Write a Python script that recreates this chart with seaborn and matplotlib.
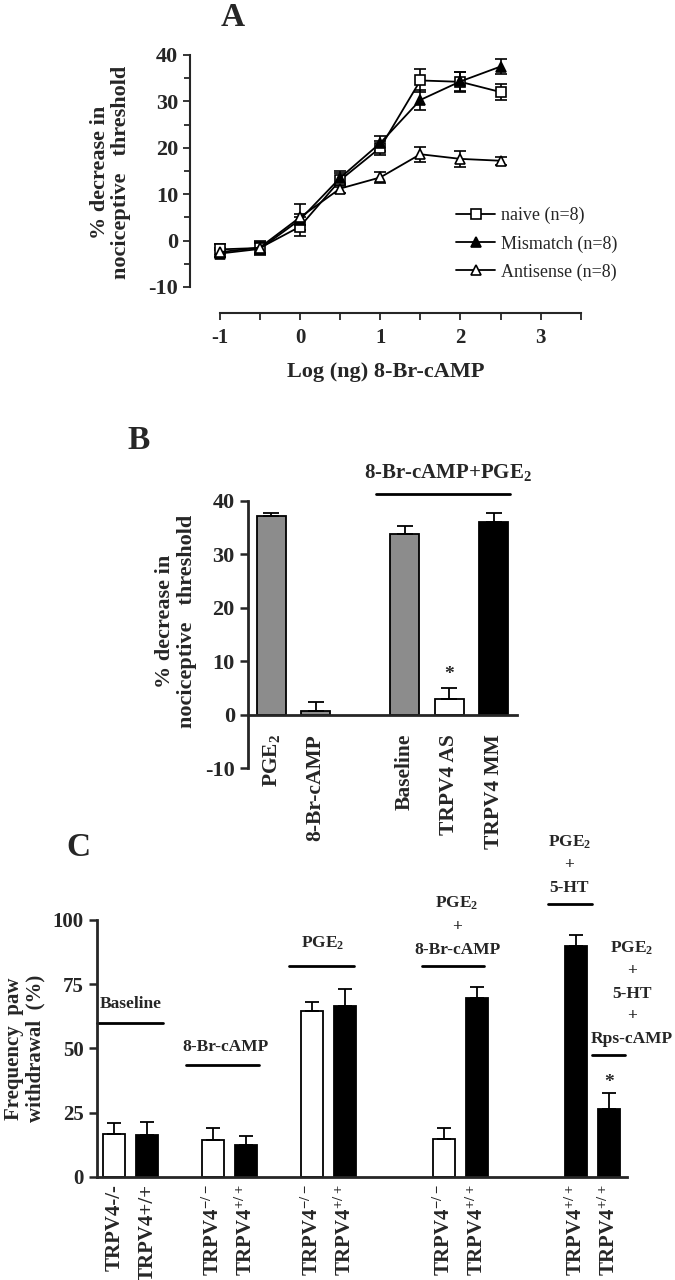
import numpy as np
import pandas as pd
import matplotlib
matplotlib.use("Agg")
import matplotlib.pyplot as plt
import seaborn as sns

# ---- Panel A: dose response ----
dose = [-1, -0.5, 0, 0.5, 1, 1.5, 2, 2.5]
naive = [-1.9, -1.6, 3.0, 13.0, 20.0, 34.5, 34.2, 32.0]
naive_err = [1.2, 1.5, 2.0, 1.5, 1.5, 2.5, 2.2, 1.8]
mismatch = [-2.8, -1.8, 4.5, 13.5, 21.0, 30.3, 34.3, 37.5]
mismatch_err = [0.8, 1.2, 1.2, 1.5, 1.6, 2.2, 2.0, 1.6]
antisense = [-2.5, -1.5, 5.0, 11.2, 13.6, 18.6, 17.6, 17.2]
antisense_err = [1.0, 1.2, 2.8, 1.0, 1.2, 1.6, 1.8, 0.9]

# ---- Panel B ----
b_labels = ["PGE$_2$", "8-Br-cAMP", "Baseline", "TRPV4 AS", "TRPV4 MM"]
b_pos = [0, 1, 3, 4, 5]
b_vals = [37.1, 0.6, 33.8, 3.0, 36.1]
b_err = [0.7, 1.7, 1.6, 1.9, 1.7]
b_colors = ["#8c8c8c", "#8c8c8c", "#8c8c8c", "white", "black"]

# ---- Panel C ----
c_labels = ["TRPV4-/-", "TRPV4+/+", "TRPV4$^{-/-}$", "TRPV4$^{+/+}$",
            "TRPV4$^{-/-}$", "TRPV4$^{+/+}$", "TRPV4$^{-/-}$", "TRPV4$^{+/+}$",
            "TRPV4$^{+/+}$", "TRPV4$^{+/+}$"]
c_pos = [0, 1, 3, 4, 6, 7, 10, 11, 14, 15]
c_vals = [16.9, 16.5, 14.4, 12.3, 64.7, 66.5, 14.8, 69.7, 89.9, 26.5]
c_err = [4.1, 4.7, 4.7, 3.5, 3.4, 6.5, 4.3, 4.3, 4.1, 6.0]
c_colors = ["white", "black", "white", "black", "white", "black",
            "white", "black", "black", "black"]

sns.set_style("ticks")
plt.rcParams["font.family"] = ["Liberation Serif", "DejaVu Serif"]
plt.rcParams["font.weight"] = "bold"
plt.rcParams["axes.labelweight"] = "bold"
plt.rcParams["axes.unicode_minus"] = False
plt.rcParams["mathtext.fontset"] = "custom"
plt.rcParams["mathtext.rm"] = "Liberation Serif:bold"
plt.rcParams["mathtext.it"] = "Liberation Serif:bold"
plt.rcParams["mathtext.bf"] = "Liberation Serif:bold"
plt.rcParams["mathtext.default"] = "rm"
plt.rcParams["axes.linewidth"] = 1.5

fig = plt.figure(figsize=(6.75, 12.8), dpi=100)

ylab = "% decrease in\nnociceptive   threshold"


def bold_ticks(ax):
    for lbl in ax.get_xticklabels() + ax.get_yticklabels():
        lbl.set_fontweight("bold")


# ================= A =================
axA = fig.add_axes([0.2815, 0.7555, 0.579, 0.2034])
series = [("naive (n=8)", naive, naive_err, "s", "white", 6.5),
          ("Mismatch (n=8)", mismatch, mismatch_err, "^", "black", 6.5),
          ("Antisense (n=8)", antisense, antisense_err, "^", "white", 7.5)]
for name, vals, err, mk, fc, ms in series:
    axA.errorbar(dose, vals, yerr=err, fmt="none", ecolor="k", elinewidth=1.2,
                 capsize=4, capthick=1.2, zorder=2)
    sns.lineplot(x=dose, y=vals, ax=axA, color="k", marker=mk, markerfacecolor=fc,
                 markeredgecolor="k", markersize=ms, markeredgewidth=1.2,
                 linewidth=1.3, label=name, zorder=3)
axA.set_xlim(-1.37, 3.5)
axA.set_ylim(-15.6, 40.5)
axA.spines["top"].set_visible(False)
axA.spines["right"].set_visible(False)
axA.spines["left"].set_bounds(-10, 40)
axA.spines["bottom"].set_bounds(-1, 3.5)
axA.set_xticks([-1, 0, 1, 2, 3])
axA.set_xticks([-0.5, 0.5, 1.5, 2.5, 3.5], minor=True)
axA.set_yticks([-10, 0, 10, 20, 30, 40])
axA.set_yticks([-5, 5, 15, 25, 35], minor=True)
axA.tick_params(axis="both", which="both", direction="out", length=5, width=1.3)
axA.tick_params(axis="y", which="major", labelsize=16)
axA.tick_params(axis="x", which="major", labelsize=15, pad=6)
axA.tick_params(axis="y", which="minor", length=4)
bold_ticks(axA)
axA.set_xlabel("Log (ng) 8-Br-cAMP", fontsize=16, labelpad=10)
axA.set_ylabel(ylab, fontsize=16, linespacing=1.1)
axA.yaxis.set_label_coords(-0.15, 0.54)
handles, labels = axA.get_legend_handles_labels()
axA.legend(handles, labels, loc="center left", bbox_to_anchor=(0.68, 0.265),
           frameon=False, prop={"weight": "normal", "size": 13},
           handlelength=2.2, handletextpad=0.3, labelspacing=0.6,
           borderpad=0, borderaxespad=0)
fig.text(0.344, 0.986, "A", fontsize=24, fontweight="bold", ha="center", va="center")

# ================= B =================
axB = fig.add_axes([0.3674, 0.4, 0.3985, 0.2086])
df_b = pd.DataFrame({"pos": b_pos, "val": b_vals, "name": b_labels})
sns.barplot(data=df_b, x="pos", y="val", hue="name", ax=axB, native_scale=True,
            palette=dict(zip(b_labels, b_colors)), width=0.65, dodge=False,
            edgecolor="k", linewidth=1.3, errorbar=None, legend=False)
axB.errorbar(b_pos, b_vals, yerr=[np.zeros(len(b_err)), b_err], fmt="none",
             ecolor="k", elinewidth=1.3, capsize=6, capthick=1.3)
axB.set_xlim(-0.52, 5.52)
axB.set_ylim(-10, 40)
axB.spines["top"].set_visible(False)
axB.spines["right"].set_visible(False)
axB.spines["bottom"].set_position(("data", 0))
axB.spines["bottom"].set_linewidth(2)
axB.spines["left"].set_linewidth(2)
axB.set_yticks([-10, 0, 10, 20, 30, 40])
axB.set_xticks(b_pos)
axB.set_xticklabels(b_labels, rotation=90, va="top", ha="center")
axB.tick_params(axis="y", length=6, width=1.8, labelsize=16)
axB.tick_params(axis="x", length=0, pad=14, labelsize=15.5)
bold_ticks(axB)
axB.set_xlabel("")
axB.set_ylabel(ylab, fontsize=16, linespacing=1.1)
axB.yaxis.set_label_coords(-0.19, 0.55)
axB.plot([2.36, 5.37], [41.4, 41.4], color="k", lw=2, clip_on=False)
axB.text(3.98, 43.4, "8-Br-cAMP+PGE$_2$", fontsize=15, ha="center", va="bottom")
axB.text(4, 6.0, "*", fontsize=14, ha="center", va="bottom")
fig.text(0.206, 0.656, "B", fontsize=24, fontweight="bold", ha="center", va="center")

# ================= C =================
axC = fig.add_axes([0.1437, 0.0805, 0.7852, 0.2008])
df_c = pd.DataFrame({"pos": c_pos, "val": c_vals, "grp": [str(p) for p in c_pos]})
sns.barplot(data=df_c, x="pos", y="val", hue="grp", ax=axC, native_scale=True,
            palette=dict(zip(df_c["grp"], c_colors)), width=0.66, dodge=False,
            edgecolor="k", linewidth=1.3, errorbar=None, legend=False)
axC.errorbar(c_pos, c_vals, yerr=[np.zeros(len(c_err)), c_err], fmt="none",
             ecolor="k", elinewidth=1.3, capsize=5, capthick=1.3)
axC.set_xlim(-0.52, 15.55)
axC.set_ylim(0, 100)
axC.spines["top"].set_visible(False)
axC.spines["right"].set_visible(False)
axC.spines["bottom"].set_linewidth(2)
axC.spines["left"].set_linewidth(2)
axC.set_yticks([0, 25, 50, 75, 100])
axC.set_xticks(c_pos)
axC.set_xticklabels(c_labels, rotation=90, va="top", ha="center")
axC.tick_params(axis="y", length=6, width=1.8, labelsize=15)
axC.tick_params(axis="x", length=0, pad=5, labelsize=15)
bold_ticks(axC)
axC.set_xlabel("")
axC.set_ylabel("Frequency  paw\nwithdrawal  (%)", fontsize=15, linespacing=1.1)
axC.yaxis.set_label_coords(-0.097, 0.5)

gl = dict(color="k", lw=2, clip_on=False)
tf = dict(fontsize=12.5, ha="center", va="center")
axC.plot([-0.52, 1.48], [60, 60], **gl)
axC.text(0.5, 67.3, "Baseline", **tf)
axC.plot([2.18, 4.4], [43.5, 43.5], **gl)
axC.text(3.37, 50.6, "8-Br-cAMP", **tf)
axC.plot([5.3, 7.27], [82.2, 82.2], **gl)
axC.text(6.33, 90.9, "PGE$_2$", **tf)
axC.plot([9.33, 11.2], [82.2, 82.2], **gl)
axC.text(10.4, 97.5, "PGE$_2$\n+\n8-Br-cAMP", linespacing=1.55, **tf)
axC.plot([13.15, 14.5], [106.1, 106.1], **gl)
axC.text(13.8, 121.5, "PGE$_2$\n+\n5-HT", linespacing=1.55, **tf)
axC.plot([14.5, 15.5], [47.4, 47.4], **gl)
axC.text(15.7, 71.5, "PGE$_2$\n+\n5-HT\n+\nRps-cAMP", linespacing=1.55, **tf)
axC.text(15, 33.5, "*", fontsize=14, ha="center", va="bottom")
fig.text(0.116, 0.3375, "C", fontsize=24, fontweight="bold", ha="center", va="center")

fig.savefig("out.png", dpi=100)
